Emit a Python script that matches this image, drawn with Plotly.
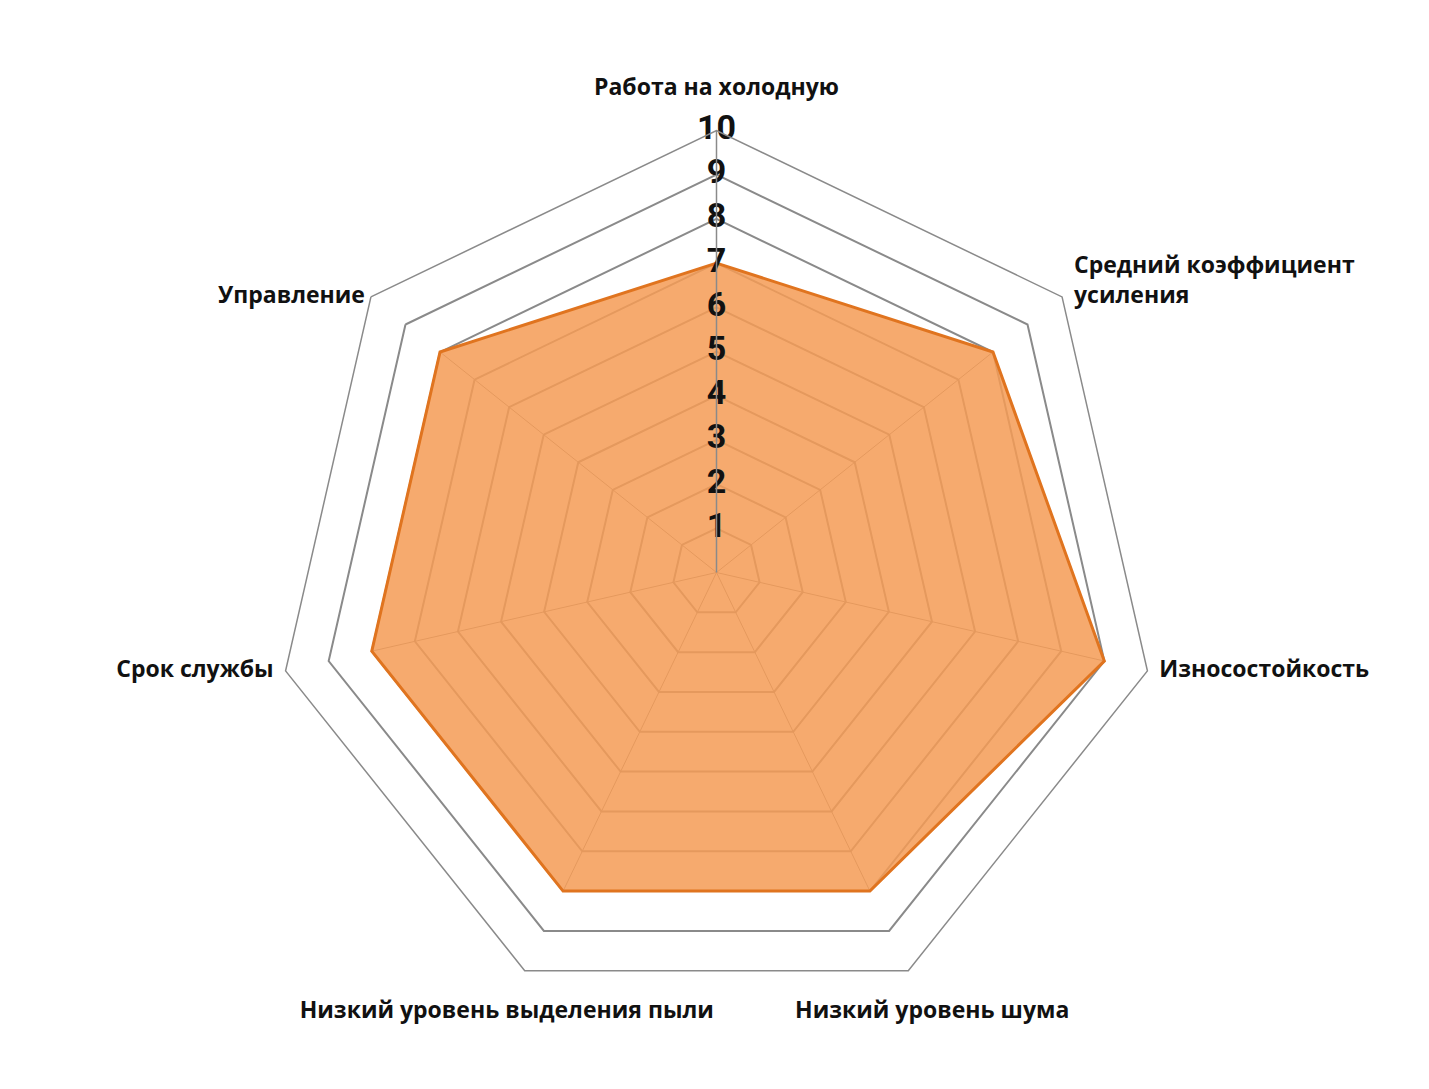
import plotly.graph_objects as go

categories = [
    "Работа на холодную",
    "Средний коэффициент<br>усиления",
    "Износостойкость",
    "Низкий уровень шума",
    "Низкий уровень выделения пыли",
    "Срок службы",
    "Управление",
]
values = [7, 8, 9, 8, 8, 8, 8]
tick_values = [1, 2, 3, 4, 5, 6, 7, 8, 9, 10]
tick_labels = [str(v) for v in tick_values]
NB = "\u00a0"
label_texts = [
    "Работа на холодную<br> ",
    NB * 2 + "Средний коэффициент<br>" + NB * 2 + "усиления<br> ",
    NB * 2 + "Износостойкость",
    " <br>" + NB * 8 + "Низкий уровень шума",
    " <br>Низкий уровень выделения пыли" + NB * 6,
    "Срок службы" + NB * 2,
    "Управление" + NB * 1,
]
label_positions = ["top center", "middle right", "middle right", "bottom center",
                   "bottom center", "middle left", "middle left"]
R_MAX = tick_values[-1]

GRID = "#8a8a8a"
fig = go.Figure()

# spokes only inside the filled area
for cat, val in zip(categories, values):
    fig.add_trace(go.Scatterpolar(
        r=[0, val], theta=[cat, cat], mode="lines",
        line=dict(color=GRID, width=1), hoverinfo="skip", showlegend=False,
    ))

fig.add_trace(go.Scatterpolar(
    r=values + [values[0]],
    theta=categories + [categories[0]],
    mode="lines",
    fill="toself",
    fillcolor="rgba(245,155,85,0.85)",
    line=dict(color="#E0741F", width=3),
    showlegend=False,
))

fig.add_trace(go.Scatterpolar(
    r=tick_values,
    theta=[categories[0]] * len(tick_values),
    mode="text",
    text=tick_labels,
    textposition="middle center",
    textfont=dict(family="Roboto, Liberation Sans, Arial", size=34, color="#111111", weight="bold"),
    cliponaxis=False,
    showlegend=False,
    hoverinfo="skip",
))

fig.add_trace(go.Scatterpolar(
    r=[R_MAX] * len(categories),
    theta=categories,
    mode="text",
    text=label_texts,
    textposition=label_positions,
    textfont=dict(family="Open Sans, Noto Sans, sans-serif", size=23, color="#111111", weight="bold"),
    cliponaxis=False,
    showlegend=False,
    hoverinfo="skip",
))

fig.update_layout(
    width=1429, height=1089,
    paper_bgcolor="white",
    margin=dict(l=0, r=0, t=0, b=0),
    polar=dict(
        domain=dict(x=[266.5 / 1429, 1150.5 / 1429], y=[82.5 / 1089, 966.5 / 1089]),
        bgcolor="white",
        gridshape="linear",
        radialaxis=dict(
            range=[0, R_MAX], dtick=1, tick0=0, angle=90,
            showticklabels=False, ticks="",
            showline=True, linecolor=GRID, linewidth=1.5,
            gridcolor=GRID, gridwidth=1.5,
        ),
        angularaxis=dict(
            rotation=90, direction="clockwise",
            showgrid=False, showline=True, linecolor=GRID, linewidth=1.5,
            showticklabels=False, ticks="",
        ),
    ),
)

fig.write_html("out.html")
